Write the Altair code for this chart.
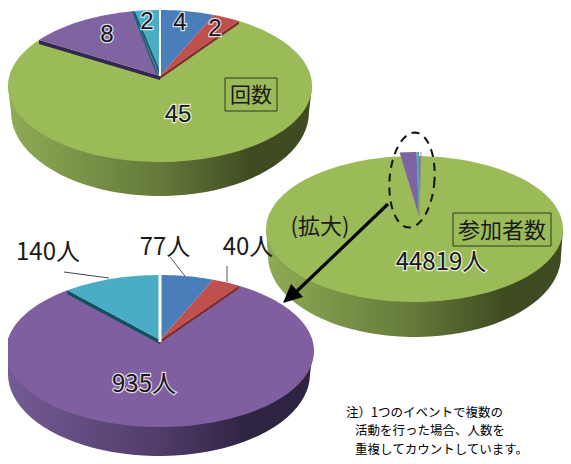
import math
import altair as alt
import pandas as pd

# ---- values ----
count_labels = ["4", "2", "45", "8", "2"]
count_values = [4, 2, 45, 8, 2]
count_colors = ["#4a7ebb", "#c0504d", "#9bbb59", "#8064a2", "#4bacc6"]

people_labels = ["77人", "40人", "935人", "140人"]
people_values = [77, 40, 935, 140]
people_colors = ["#4a7ebb", "#c0504d", "#7f5fa0", "#4bacc6"]

total_values = [77, 40, 44819, 935, 140]
total_colors = ["#c0504d", "#4a7ebb", "#9bbb59", "#8064a2", "#4bacc6"]

note_lines = ["注）1つのイベントで複数の", "活動を行った場合、人数を", "重複してカウントしています。"]

W, H = 555, 448
OFF = 8
JP = "Noto Sans CJK JP"
LATIN = "Liberation Sans"
X = alt.X("x:Q", axis=None, scale=alt.Scale(domain=[OFF, OFF + W], nice=False, zero=False))
Y = alt.Y("y:Q", axis=None, scale=alt.Scale(domain=[OFF + H, OFF], nice=False, zero=False))
layers = []


def poly(points, fill):
    df = pd.DataFrame([{"x": p[0], "y": p[1], "i": i} for i, p in enumerate(points)])
    layers.append(
        alt.Chart(df)
        .mark_line(interpolate="linear-closed", fill=fill, clip=True, strokeWidth=0)
        .encode(x=X, y=Y, order="i:Q")
    )


def seg(points, color, width, dash=None, closed=False):
    df = pd.DataFrame([{"x": p[0], "y": p[1], "i": i} for i, p in enumerate(points)])
    kw = {"strokeDash": dash} if dash else {}
    layers.append(
        alt.Chart(df)
        .mark_line(color=color, strokeWidth=width, interpolate="linear-closed" if closed else "linear", **kw)
        .encode(x=X, y=Y, order="i:Q")
    )


def label(x, y, text, size=24, halo=True, color="#1a1a1a", align="center", font=JP):
    df = pd.DataFrame([{"x": x, "y": y, "t": text}])
    if halo:
        layers.append(
            alt.Chart(df)
            .mark_text(font=font, fontSize=size, stroke="#ffffff", strokeWidth=2.5, strokeOpacity=0.75,
                       align=align, baseline="middle")
            .encode(x=X, y=Y, text="t:N")
        )
    layers.append(
        alt.Chart(df)
        .mark_text(font=font, fontSize=size, color=color, align=align, baseline="middle")
        .encode(x=X, y=Y, text="t:N")
    )


def side_gradient(a, b, c):
    return alt.Gradient(
        gradient="linear", x1=0, x2=1, y1=0, y2=0,
        stops=[alt.GradientStop(color=a, offset=0), alt.GradientStop(color=b, offset=0.5),
               alt.GradientStop(color=c, offset=0.8), alt.GradientStop(color=c, offset=1)],
    )


class Pie:
    def __init__(self, ax, ay, top, bottom, rx, left_x):
        self.ax, self.ay = ax, ay
        up, dn = ay - top, bottom - ay
        self.a = 2 / (1 / up + 1 / dn)
        self.k = self.a / up - 1
        self.b = rx * math.sqrt(1 - self.k ** 2)
        self.cx, self.cy, self.rx, self.ry = left_x + rx, (top + bottom) / 2, rx, (bottom - top) / 2

    def pt(self, deg, r=1.0):
        t = math.radians(deg)
        X_, Y_ = r * math.sin(t), r * math.cos(t)
        d = 1 + self.k * Y_
        return (self.ax + self.b * X_ / d, self.ay - self.a * Y_ / d)

    def wedge(self, d0, d1, fill, r=1.0):
        n = max(2, int(abs(d1 - d0) / 2) + 2)
        arc = [self.pt(d0 + (d1 - d0) * i / (n - 1), r) for i in range(n)]
        poly([(self.ax, self.ay)] + arc, fill)

    def side(self, depth, extra, inset, grad):
        lo = [(self.cx + (self.rx - inset) * math.cos(math.radians(t)),
               self.cy + depth + (self.ry + extra) * math.sin(math.radians(t))) for t in range(180, -1, -4)]
        poly(lo + [(self.cx + self.rx, self.cy), (self.cx - self.rx, self.cy)], grad)

    def strip(self, deg, dx, dy, fill):
        p = self.pt(deg)
        poly([p, (self.ax, self.ay), (self.ax + dx, self.ay + dy), (p[0] + dx, p[1] + dy)], fill)


def spans(values, start=0.0):
    tot = sum(values)
    out, a = [], start
    for v in values:
        out.append((a, a + 360 * v / tot))
        a += 360 * v / tot
    return out


GREEN_SIDE = side_gradient("#8fab55", "#64793a", "#3f4c22")
PURPLE_SIDE = side_gradient("#755c95", "#503c69", "#2e2340")

# ---- top pie: number of events ----
p1 = Pie(160, 76, 10, 162, 152, 8)
p1.side(26, 8, 3, GREEN_SIDE)
s = spans(count_values)
p1.wedge(*s[2], count_colors[2])
p1.strip(s[3][0], 0, 4, "#33264f")
p1.wedge(*s[3], count_colors[3])
p1.strip(s[1][1], 0, 3, "#7d2f2d")
p1.wedge(*s[0], count_colors[0])
p1.wedge(*s[1], count_colors[1])
p1.wedge(*s[4], count_colors[4])
p1.strip(s[4][0], 2.5, 1, "#1c5a6b")
seg([p1.pt(0), (160, 76)], "#ffffff", 2)
seg([p1.pt(s[4][0]), (157, 74)], "#1f6273", 1.5)

# ---- bottom pie: people, enlarged (side kept inside the page) ----
p3 = Pie(160, 340, 275, 427, 154, 5)
p3.side(23, 6, 3, PURPLE_SIDE)
s = spans(people_values)
p3.wedge(*s[2], people_colors[2])
p3.strip(s[3][0], 0, 4, "#12505f")
p3.wedge(*s[3], people_colors[3])
p3.strip(s[1][1], 0, 3, "#7d2f2d")
p3.wedge(*s[0], people_colors[0])
p3.wedge(*s[1], people_colors[1])
seg([p3.pt(0), (160, 342)], "#ffffff", 3)

# ---- right pie: participants (rim kept inside the page) ----
p2 = Pie(419, 216, 156, 302, 148.5, 266)
p2.side(27, 8, 2, GREEN_SIDE)
face = [(p2.cx + p2.rx * math.cos(math.radians(t)), p2.cy + p2.ry * math.sin(math.radians(t)))
        for t in range(0, 360, 4)]
poly(face, total_colors[2])
s = spans(total_values)
p2.wedge(*s[0], total_colors[0])
p2.wedge(*s[1], total_colors[1])
p2.wedge(*s[3], total_colors[3], r=1.08)
p2.wedge(*s[4], total_colors[4], r=1.08)
seg([(421, 152), (419, 216)], "#b58a7a", 1)

# ---- annotation marks ----
seg([(412 + 22.5 * math.cos(math.radians(t)) - 0.06 * 47 * math.sin(math.radians(t)),
      180 + 47.5 * math.sin(math.radians(t))) for t in range(0, 360, 5)],
    "#111111", 2, dash=[8, 6], closed=True)
seg([(388, 204), (296, 292)], "#000000", 3.2)
poly([(283, 303), (291, 284), (303, 297)], "#000000")
seg([(64, 272), (109, 278)], "#444444", 1)
seg([(170, 257), (185, 276)], "#555555", 1)
seg([(227, 266), (227, 282)], "#555555", 1)

# ---- boxes ----
for (x0, x1, y0, y1) in [(225, 277, 78, 111), (453, 551, 213, 246)]:
    seg([(x0, y0), (x1, y0), (x1, y1), (x0, y1)], "#2f3a20", 1, closed=True)

# ---- labels ----
label(180, 23, count_labels[0], font=LATIN)
label(215, 29, count_labels[1], font=LATIN)
label(178, 115, count_labels[2], font=LATIN)
label(107, 35, count_labels[3], font=LATIN)
label(147, 22, count_labels[4], font=LATIN)
label(251, 96, "回数", size=21, halo=False)
label(441, 263, "44819人")
label(320, 227, "(拡大)", size=22, halo=False)
label(502, 231, "参加者数", size=22, halo=False)
label(165, 248, people_labels[0], halo=False)
label(248, 248, people_labels[1], halo=False)
label(144, 385, people_labels[2])
label(48, 253, people_labels[3], halo=False)
label(346, 412.5, note_lines[0], size=12.5, halo=False, color="#000000", align="left")
label(355, 431, note_lines[1], size=12.5, halo=False, color="#000000", align="left")
label(355, 449.5, note_lines[2], size=12.5, halo=False, color="#000000", align="left")

chart = (
    alt.layer(*layers)
    .properties(width=W, height=H, padding=0, autosize=alt.AutoSizeParams(type="none"), background="#ffffff")
    .configure_view(stroke=None)
)
chart.save("out.html", embed_options={"renderer": "svg", "actions": False})
